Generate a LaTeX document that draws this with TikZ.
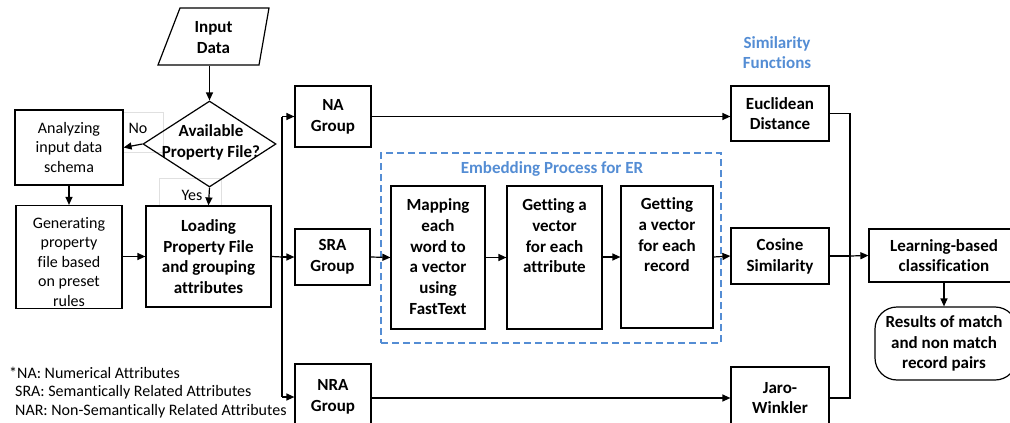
\documentclass[tikz,border=0pt]{standalone}
\usepackage{fontspec}
\setmainfont{Carlito}[Ligatures={NoCommon}]
\usetikzlibrary{arrows.meta,shapes.geometric,positioning}
\definecolor{erblue}{RGB}{84,141,212}
\newcommand{\bfs}{\fontsize{17}{20.8}\selectfont\bfseries}
\newcommand{\rfs}{\fontsize{16}{19.5}\selectfont}
\newcommand{\lfs}{\fontsize{16}{19}\selectfont}
\tikzset{
  ln/.style={line width=1.2pt},
  arr/.style={line width=1.2pt,-{Triangle[length=8pt,width=7pt]}},
  box/.style={draw,line width=1.2pt,align=center,inner sep=0pt,font=\bfs},
  rbox/.style={box,font=\rfs},
  glbl/.style={draw=black!12,line width=1pt,inner sep=0pt},
  ttl/.style={text=erblue,font=\bfs,align=center},
  lgd/.style={font=\lfs,anchor=west,inner sep=0pt}
}
\begin{document}
\begin{tikzpicture}[x=1pt,y=-1pt]
\useasboundingbox (0,0) rectangle (1010,423);
% gray label boxes
\node[glbl,minimum width=41pt,minimum height=40pt] (nobox) at (142.5,132) {};
\node[glbl,minimum width=62pt,minimum height=27pt] (yesbox) at (190.5,192) {};
% input (parallelogram)
\draw[line width=1.2pt] (158,65) -- (180,8) -- (269,8) -- (259,65) -- cycle;
\node[font=\bfs,align=center,minimum height=57pt,inner sep=0pt] (input) at (213.5,37.5) {Input\\Data};
% decision
\node[draw,line width=1.2pt,shape=diamond,aspect=1.55,minimum width=133pt,minimum height=86pt,
      inner sep=0pt,align=center,font=\bfs] (dia) at (209.5,144) {};
\node[font=\bfs,align=center] (diat) at (211,142) {Available\\Property File?};
\node[font=\rfs] (no) at (138,128) {No};
\node[font=\rfs] (yes) at (192,195) {Yes};
% left column
\node[rbox,minimum width=108pt,minimum height=75pt] (ana) at (69,147.5) {Analyzing\\input data\\schema};
\node[rbox,minimum width=106pt,minimum height=103pt] (gen) at (69,257) {};
\node[font=\rfs,align=center] (gent) at (69,262) {Generating\\property\\file based\\on preset\\rules};
\node[box,minimum width=125pt,minimum height=101pt] (load) at (208.5,256.5) {Loading\\Property File\\and grouping\\attributes};
% groups
\node[box,minimum width=76pt,minimum height=61pt] (na) at (333,116.5) {NA\\Group};
\node[box,minimum width=75pt,minimum height=56pt] (sra) at (332.5,257) {SRA\\Group};
\node[box,minimum width=76pt,minimum height=66pt] (nra) at (333,397) {NRA\\Group};
% embedding
\node[draw=erblue,line width=1.2pt,dash pattern=on 7pt off 4pt,minimum width=340pt,minimum height=190pt,inner sep=0pt] (emb) at (551,248) {};
\node[ttl] (embt) at (552,169) {Embedding Process for ER};
\node[box,minimum width=94pt,minimum height=143pt] (map) at (438,257.5) {};
\node[font=\bfs,align=center,anchor=north] (mapt) at (438,195) {Mapping\\each\\word to\\a vector\\using\\FastText};
\node[box,minimum width=95pt,minimum height=143pt] (gva) at (554.5,257.5) {};
\node[font=\bfs,align=center,anchor=north] (gvat) at (554.5,195) {Getting a\\vector\\for each\\attribute};
\node[box,minimum width=92pt,minimum height=142pt] (gvr) at (667,257) {};
\node[font=\bfs,align=center,anchor=north] (gvrt) at (667,194) {Getting\\a vector\\for each\\record};
% similarity
\node[ttl] (simt) at (777,52.5) {Similarity\\Functions};
\node[box,minimum width=98pt,minimum height=55pt] (euc) at (780,113.5) {Euclidean\\Distance};
\node[box,minimum width=98pt,minimum height=56pt] (cos) at (780,256) {Cosine\\Similarity};
\node[box,minimum width=98pt,minimum height=62pt] (jaro) at (780,398) {Jaro-\\Winkler};
% classification
\node[box,minimum width=150pt,minimum height=53pt] (learn) at (944,255.5) {};
\node[font=\bfs,align=center] (learnt) at (944,255.5) {Learning-based\\classification};
\node[draw,line width=1.2pt,rounded corners=22pt,minimum width=142pt,minimum height=73pt,inner sep=0pt] (res) at (946,343.5) {};
\node[font=\bfs,align=center] (rest) at (944,343.5) {Results of match\\and non match\\record pairs};
% legend
\node[lgd] (l1) at (9,373) {*NA: Numerical Attributes};
\node[lgd] (l2) at (15,392) {SRA: Semantically Related Attributes};
\node[lgd] (l3) at (15,411) {NAR: Non-Semantically Related Attributes};
% connectors
\draw[arr] (dia.north |- input.south) -- (dia.north);
\draw[arr] (dia.west) -- (ana.east);
\draw[arr] (dia.south) -- (load.north);
\draw[arr] (ana.south) -- (gen.north);
\draw[arr] (gen.east |- load.west) -- (load.west);
\coordinate (bus) at (282,257);
\draw[ln] (load.east) -- (bus);
\draw[ln] (bus |- na.west) -- (bus |- nra.west);
\draw[arr] (bus |- na.west) -- (na.west);
\draw[arr] (bus) -- (sra.west);
\draw[arr] (bus |- nra.west) -- (nra.west);
\draw[arr] (na.east) -- (na.east -| euc.west);
\draw[arr] (nra.east |- jaro.west) -- (jaro.west);
\draw[arr] (sra.east) -- (map.west);
\draw[arr] (map.east |- gva.west) -- (gva.west);
\draw[arr] (gva.east |- gvr.west) -- (gvr.west);
\draw[arr] (gvr.east) -- (cos.west);
\coordinate (mrg) at (850,256);
\draw[ln] (euc.east) -| (mrg);
\draw[ln] (jaro.east) -| (mrg);
\draw[ln] (cos.east) -- (mrg);
\draw[arr] (mrg) -- (learn.west);
\draw[arr] (learn.south) -- (res.north -| learn.south);
\end{tikzpicture}
\end{document}
